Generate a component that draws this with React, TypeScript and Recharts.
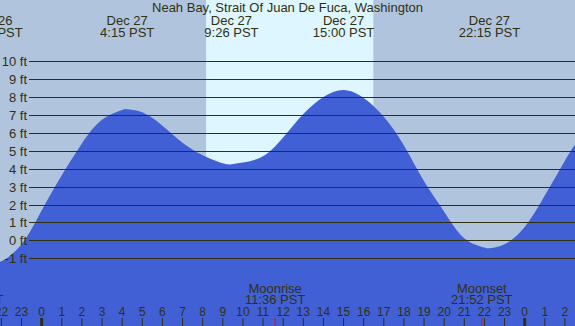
import { Area, ComposedChart, ReferenceArea, XAxis, YAxis } from "recharts";

const title = "Neah Bay, Strait Of Juan De Fuca, Washington";

// tide height (ft), hours relative to Dec 27 00:00
const hours = [-2.47, -2, -1, 0, 1, 2, 3, 4, 4.25, 5, 6, 7, 8, 9, 9.43, 10, 11, 12, 13, 14, 15, 16, 17, 18, 19, 20, 21, 22, 22.25, 23, 24, 25, 26, 26.5];
const feet = [-1.23, -1.17, -0.22, 1.67, 3.64, 5.41, 6.73, 7.28, 7.32, 7.15, 6.4, 5.45, 4.75, 4.3, 4.25, 4.35, 4.7, 5.75, 7.05, 8.0, 8.4, 7.95, 6.9, 5.3, 3.3, 1.6, 0.12, -0.4, -0.44, -0.22, 0.75, 2.5, 4.45, 5.35];

const tideTimes = [-2.47, 4.25, 9.43, 15, 22.25];
const tideDays = ["Dec 26", "Dec 27", "Dec 27", "Dec 27", "Dec 27"];
const tideClock = ["21:32 PST", "4:15 PST", "9:26 PST", "15:00 PST", "22:15 PST"];

const moonTimes = [-3.42, 11.6, 21.87];
const moonEvents = ["Moonset", "Moonrise", "Moonset"];
const moonClock = ["20:35 PST", "11:36 PST", "21:52 PST"];

const sunrise = 8.17;
const sunset = 16.48;

const hourTicks = [-2, -1, 0, 1, 2, 3, 4, 5, 6, 7, 8, 9, 10, 11, 12, 13, 14, 15, 16, 17, 18, 19, 20, 21, 22, 23, 24, 25, 26];
const hourLabels = ["22", "23", "0", "1", "2", "3", "4", "5", "6", "7", "8", "9", "10", "11", "12", "13", "14", "15", "16", "17", "18", "19", "20", "21", "22", "23", "0", "1", "2"];
const depthTicks = [-1, 0, 1, 2, 3, 4, 5, 6, 7, 8, 9, 10];
const depthLabels = ["-1 ft", "0 ft", "1 ft", "2 ft", "3 ft", "4 ft", "5 ft", "6 ft", "7 ft", "8 ft", "9 ft", "10 ft"];

const W = 575;
const H = 326;
const ink = "#303010";
const font = "'Liberation Sans', Arial, sans-serif";

const data = hours.map((h, i) => ({ h, ft: feet[i] }));
const xDomain = [-2.07, 26.5];

function DepthTick({ y, payload }: any) {
  const i = depthTicks.indexOf(payload.value);
  const yy = Math.round(y) + 0.5;
  return (
    <g>
      <text x={27} y={yy} dy={4} textAnchor="end" fontSize={13} fontFamily={font} fill={ink}>
        {depthLabels[i]}
      </text>
      <line x1={29} x2={W} y1={yy} y2={yy} stroke={ink} strokeWidth={1} />
    </g>
  );
}

function HourTick({ x, payload }: any) {
  const i = hourTicks.indexOf(payload.value);
  const midnight = hourLabels[i] === "0";
  return (
    <g>
      <text x={x} y={316} textAnchor="middle" fontSize={12} fontFamily={font} fill={ink}>
        {hourLabels[i]}
      </text>
      <line x1={x} x2={x} y1={318} y2={H} stroke={ink} strokeWidth={midnight ? 3 : 1} />
    </g>
  );
}

function TideTick({ x, payload }: any) {
  const i = tideTimes.indexOf(payload.value);
  return (
    <g fontSize={13} fontFamily={font} fill={ink} textAnchor="middle">
      <text x={x} y={25}>{tideDays[i]}</text>
      <text x={x} y={36.5}>{tideClock[i]}</text>
    </g>
  );
}

function MoonTick({ x, payload }: any) {
  const i = moonTimes.indexOf(payload.value);
  return (
    <g>
      <text x={x} y={292.5} textAnchor="middle" fontSize={13} fontFamily={font} fill={ink}>
        {moonEvents[i]}
      </text>
      <text x={x} y={304} textAnchor="middle" fontSize={13} fontFamily={font} fill={ink}>
        {moonClock[i]}
      </text>
      <line x1={x} x2={x} y1={318} y2={H} stroke="#ff0000" strokeWidth={1} />
    </g>
  );
}

export default function App() {
  return (
    <div style={{ position: "absolute", left: 0, top: 0, width: W, height: H, background: "#b0c4de", overflow: "hidden" }}>
      <ComposedChart width={W} height={H} data={data} margin={{ top: -1, right: 0, bottom: -2, left: -1 }}>
        <XAxis xAxisId="t" dataKey="h" type="number" domain={xDomain} allowDataOverflow hide />
        <XAxis xAxisId="top" dataKey="h" orientation="top" type="number" domain={xDomain} allowDataOverflow height={1}
          ticks={tideTimes} interval={0} axisLine={false} tickLine={false} tick={<TideTick />} />
        <XAxis xAxisId="hours" dataKey="h" type="number" domain={xDomain} allowDataOverflow height={1}
          ticks={hourTicks} interval={0} axisLine={false} tickLine={false} tick={<HourTick />} />
        <XAxis xAxisId="moon" dataKey="h" type="number" domain={xDomain} allowDataOverflow height={1}
          ticks={moonTimes} interval={0} axisLine={false} tickLine={false} tick={<MoonTick />} />
        <YAxis type="number" domain={[-4.78, 13.42]} allowDataOverflow width={1}
          ticks={depthTicks} interval={0} axisLine={false} tickLine={false} tick={<DepthTick />} />
        <ReferenceArea xAxisId="t" x1={sunrise} x2={sunset} y1={-4.78} y2={13.42} fill="#ddf6ff" fillOpacity={1} stroke="none" ifOverflow="hidden" />
        <Area xAxisId="t" dataKey="ft" type="natural" baseValue="dataMin" fill="#4160d5" fillOpacity={1}
          stroke="none" isAnimationActive={false} dot={false} activeDot={false} />
      </ComposedChart>
      <svg width={W} height={H} style={{ position: "absolute", left: 0, top: 0, pointerEvents: "none" }}>
        <text x={W / 2} y={12} textAnchor="middle" fontSize={13} fontFamily={font} fill={ink}>
          {title}
        </text>
      </svg>
    </div>
  );
}
